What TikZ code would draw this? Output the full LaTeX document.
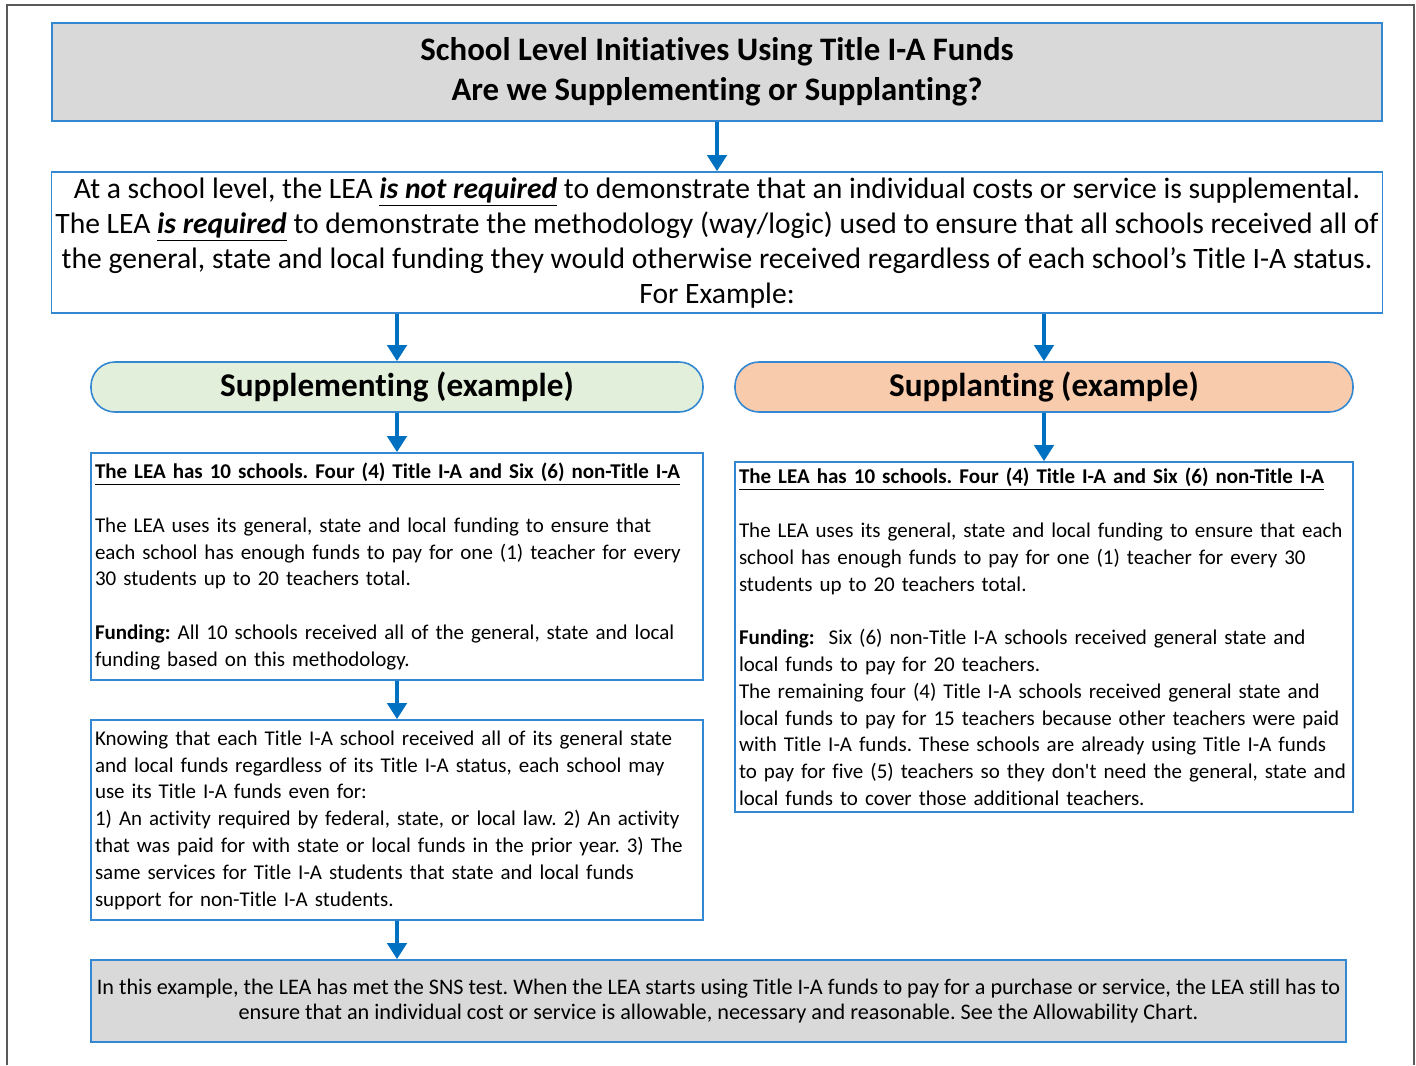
\documentclass[tikz,border=0pt]{standalone}
\usepackage{fontspec}
\setmainfont{Carlito}[Ligatures={TeX,NoCommon},RawFeature={-calt}]
\usetikzlibrary{arrows.meta}
\definecolor{boxblue}{RGB}{52,136,210}
\definecolor{flowblue}{RGB}{0,112,192}
\definecolor{bannergray}{RGB}{217,217,217}
\definecolor{suppgreen}{RGB}{226,239,218}
\definecolor{plantpeach}{RGB}{248,203,173}
\definecolor{framegray}{RGB}{89,89,89}
\frenchspacing
\tikzset{
  box/.style={ % plain box with a blue frame
    draw=boxblue, thick, rectangle, inner sep=2pt, text=black
  },
  graybox/.style={ % gray banner box
    box, fill=bannergray
  },
  headbox/.style={ % rounded header of one example column
    box, rounded corners=12pt, minimum height=25pt,
    font=\fontsize{16.6}{19}\selectfont\bfseries
  },
  textbox/.style={ % small left aligned text of a column
    box, align=left, font=\fontsize{10.5}{13.4}\selectfont
  },
  flow/.style={ % thick blue arrow going down
    draw=flowblue, line width=2.3pt, -{Triangle[width=9.5pt,length=8pt]}
  }
}

\begin{document}
\begin{tikzpicture}[x=0.5pt, y=-0.5pt]
  \useasboundingbox (0,0) rectangle (1416,1065);
  \draw[framegray, line width=1pt] (7,1065) -- (7,5) -- (1414,5) -- (1414,1065);

  \node[graybox, minimum width=665pt, minimum height=49pt, align=center,
        font=\fontsize{16.4}{20}\selectfont\bfseries] (title_box) at (717,72)
    {School Level Initiatives Using Title I-A Funds\\Are we Supplementing or Supplanting?};
  \node[box, minimum width=665pt, minimum height=70.5pt, align=center,
        font=\fontsize{14.8}{17.5}\selectfont] (intro_box) at (717,242.5)
    {At a school level, the LEA \underline{\textbf{\textit{is not required}}} to demonstrate that an individual costs or service is supplemental.\\
     The LEA \underline{\textbf{\textit{is required}}} to demonstrate the methodology (way/logic) used to ensure that all schools received all of\\
     the general, state and local funding they would otherwise received regardless of each school’s Title I-A status.\\
     For Example:};

  \node[headbox, fill=suppgreen, minimum width=306pt] (supp_head) at (397,387) {Supplementing (example)};
  \node[headbox, fill=plantpeach, minimum width=309pt] (plant_head) at (1044,387) {Supplanting (example)};

  \node[textbox, text width=302pt, minimum height=113.5pt] (supp_text) at (397,566.5)
    {\textbf{\underline{The LEA has 10 schools. Four (4) Title I-A and Six (6) non-Title I-A}}\\[13.4pt]
     The LEA uses its general, state and local funding to ensure that\\
     each school has enough funds to pay for one (1) teacher for every\\
     30 students up to 20 teachers total.\\[13.4pt]
     \textbf{Funding:} All 10 schools received all of the general, state and local\\
     funding based on this methodology.};
  \node[textbox, text width=302pt, minimum height=100pt] (supp_use) at (397,820)
    {Knowing that each Title I-A school received all of its general state\\
     and local funds regardless of its Title I-A status, each school may\\
     use its Title I-A funds even for:\\
     1) An activity required by federal, state, or local law. 2) An activity\\
     that was paid for with state or local funds in the prior year. 3) The\\
     same services for Title I-A students that state and local funds\\
     support for non-Title I-A students.};
  \node[textbox, text width=305pt, minimum height=175pt] (plant_text) at (1044,637)
    {\textbf{\underline{The LEA has 10 schools. Four (4) Title I-A and Six (6) non-Title I-A}}\\[13.4pt]
     The LEA uses its general, state and local funding to ensure that each\\
     school has enough funds to pay for one (1) teacher for every 30\\
     students up to 20 teachers total.\\[13.4pt]
     \textbf{Funding:}\ \ Six (6) non-Title I-A schools received general state and\\
     local funds to pay for 20 teachers.\\
     The remaining four (4) Title I-A schools received general state and\\
     local funds to pay for 15 teachers because other teachers were paid\\
     with Title I-A funds. These schools are already using Title I-A funds\\
     to pay for five (5) teachers so they don\textquotesingle t need the general, state and\\
     local funds to cover those additional teachers.};

  \node[graybox, minimum width=627.5pt, minimum height=41pt, align=center,
        font=\fontsize{11.1}{12.5}\selectfont] (note_box) at (718.5,1001)
    {In this example, the LEA has met the SNS test. When the LEA starts using Title I-A funds to pay for a purchase or service, the LEA still has to\\
     ensure that an individual cost or service is allowable, necessary and reasonable. See the Allowability Chart.};

  \draw[flow] (title_box) -- (intro_box);
  \draw[flow] (intro_box.south -| supp_head) -- (supp_head);
  \draw[flow] (intro_box.south -| plant_head) -- (plant_head);
  \draw[flow] (supp_head) -- (supp_text);
  \draw[flow] (plant_head) -- (plant_text);
  \draw[flow] (supp_text) -- (supp_use);
  \draw[flow] (supp_use) -- (supp_use.south |- note_box.north);
\end{tikzpicture}
\end{document}
